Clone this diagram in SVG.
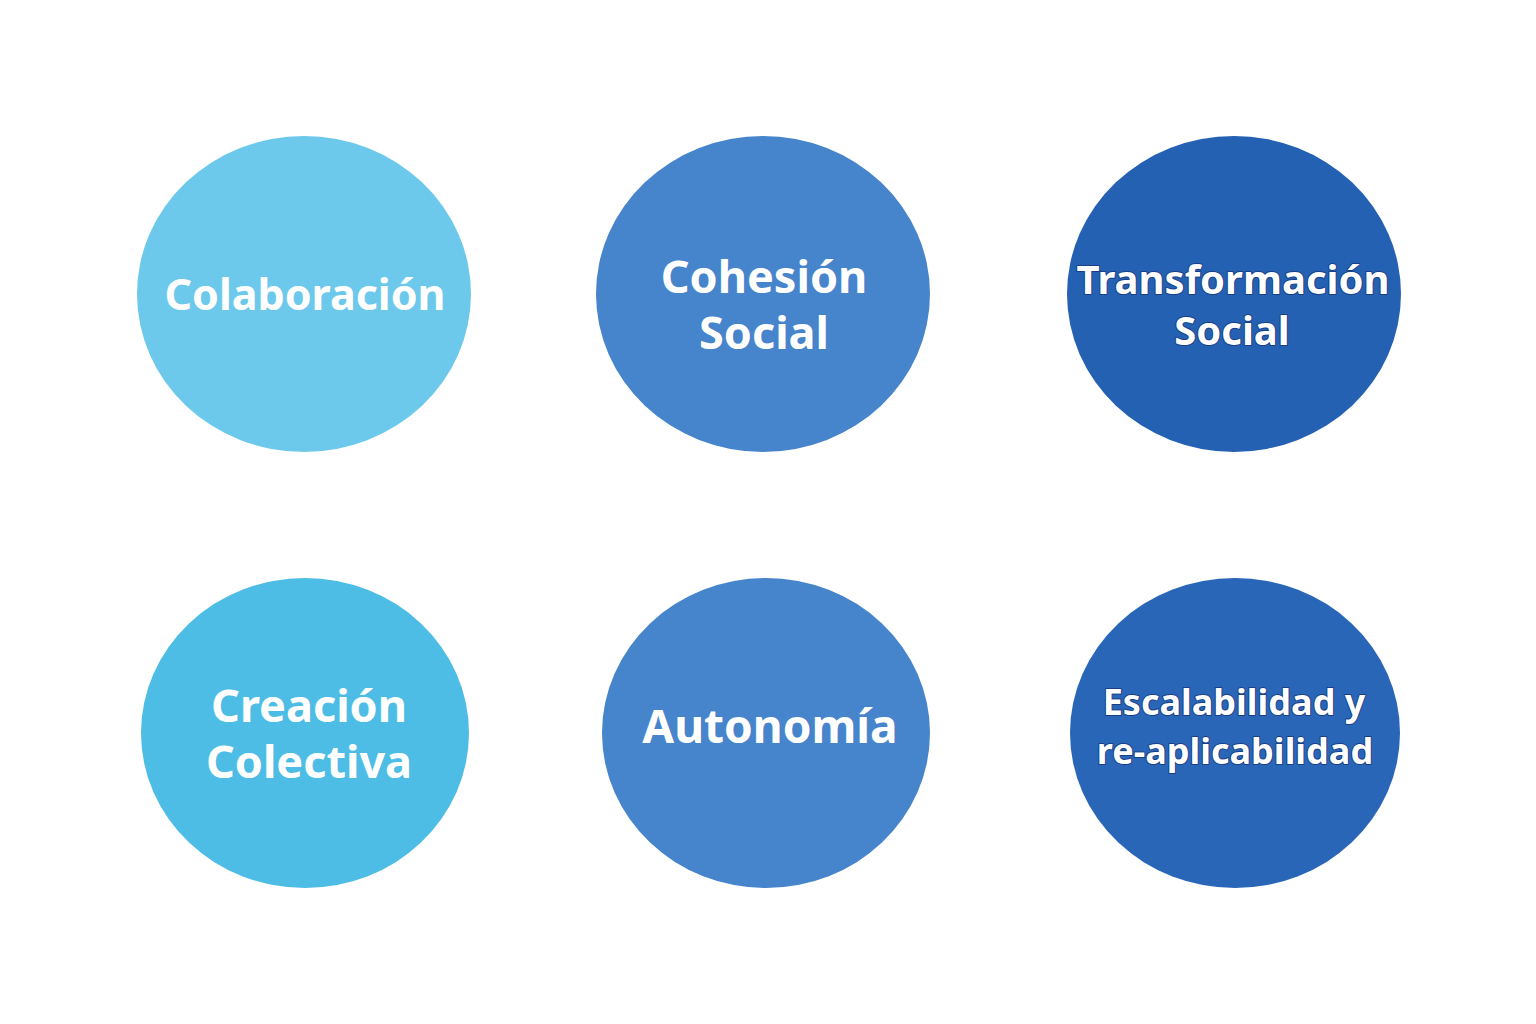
<svg xmlns="http://www.w3.org/2000/svg" width="1536" height="1024" viewBox="0 0 1536 1024">
<style>
text{font-family:"Noto Sans","Open Sans",sans-serif;font-weight:bold;fill:#fff;text-anchor:middle}
.o{paint-order:stroke;stroke:#1a3f86;stroke-width:2;stroke-linejoin:round}
</style>
<rect width="1536" height="1024" fill="#fff"/>
<g id="connectors"/>
<g id="colaboracion"><ellipse cx="304" cy="294" rx="167" ry="158" fill="#6DC9EC"/><text x="305" y="310" font-size="43">Colaboración</text></g>
<g id="cohesion"><ellipse cx="763" cy="294" rx="167" ry="158" fill="#4684CB"/><text x="764" y="293" font-size="45">Cohesión</text><text x="764" y="349" font-size="45">Social</text></g>
<g id="transformacion"><ellipse cx="1234" cy="294" rx="167" ry="158" fill="#2461B3"/><text class="o" x="1233" y="294" font-size="40">Transformación</text><text class="o" x="1232" y="345" font-size="40">Social</text></g>
<g id="creacion"><ellipse cx="305" cy="733" rx="164" ry="155" fill="#4DBDE5"/><text x="309" y="722" font-size="45">Creación</text><text x="309" y="778" font-size="45">Colectiva</text></g>
<g id="autonomia"><ellipse cx="766" cy="733" rx="164" ry="155" fill="#4684CB"/><text x="770" y="743" font-size="46">Autonomía</text></g>
<g id="escalabilidad"><ellipse cx="1235" cy="733" rx="165" ry="155" fill="#2A66B8"/><text class="o" x="1234" y="715" font-size="36">Escalabilidad y</text><text class="o" x="1235" y="764" font-size="36">re-aplicabilidad</text></g>
</svg>
